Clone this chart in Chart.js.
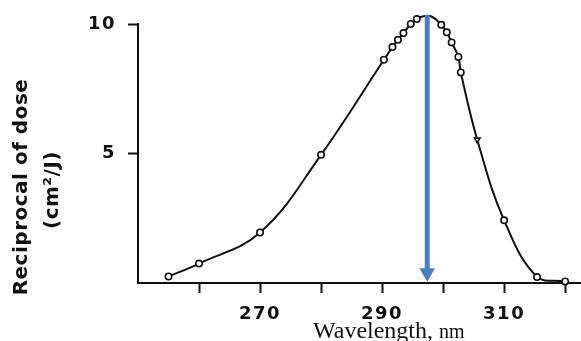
<!DOCTYPE html>
<html><head><meta charset="utf-8">
<style>html,body{margin:0;padding:0;background:#fff;overflow:hidden}
#wrap{width:581px;height:341px;position:relative}</style>
<script src="https://cdn.jsdelivr.net/npm/chart.js@4.4.1/dist/chart.umd.min.js"></script>
</head><body><div id="wrap"><canvas id="c" width="581" height="341"></canvas></div>
<script>
// ---- data ----
const wavelengths = [255, 260, 270, 280, 290.3, 291.7, 292.6, 293.5, 294.7, 295.7, 296.6, 298.1, 299.7, 300.6, 301.4, 302.5, 302.9, 305.6, 310, 315.4, 320];
const reciprocalDose = [0.25, 0.75, 1.95, 4.95, 8.62, 9.11, 9.39, 9.65, 10.0, 10.19, 10.29, 10.29, 9.97, 9.68, 9.29, 8.73, 8.13, 5.53, 2.42, 0.23, 0.06];
const xTickValues = [260, 270, 280, 290, 300, 310, 320];
const xTickLabels = ['', '270', '', '290', '', '310', ''];
const yTickValues = [5, 10];
const yTickLabels = ['5', '10'];
const peakWavelength = [297.4, 297.4];
const arrowValues = [10.35, 0.4];
const yTitle = ['Reciprocal of dose', '(cm\u00B2/J)'];
const xTitle = ['Wavelength,', 'nm'];

const tickFont = {family: '"DejaVu Sans"', weight: 'bold', size: 18};
const ink = '#111';
const blue = '#4a7ebb';

const titlesPlugin = {
  id: 'titles',
  beforeDraw(chart) {
    chart.ctx.letterSpacing = '1.5px';
  },
  afterDraw(chart) {
    const ctx = chart.ctx;
    ctx.save();
    ctx.fillStyle = ink;
    ctx.letterSpacing = '0.5px';
    ctx.font = 'bold 20px "DejaVu Sans"';
    ctx.textAlign = 'center';
    ctx.textBaseline = 'middle';
    [[22, 187], [53, 190]].forEach((p, i) => {
      ctx.save();
      ctx.translate(p[0], p[1]);
      ctx.rotate(-Math.PI / 2);
      ctx.fillText(yTitle[i], 0, 0);
      ctx.restore();
    });
    ctx.letterSpacing = '0px';
    ctx.textAlign = 'left';
    ctx.textBaseline = 'alphabetic';
    ctx.font = '24px "Liberation Serif"';
    ctx.fillText(xTitle[0], 313, 338);
    const w = ctx.measureText(xTitle[0] + ' ').width;
    ctx.font = '20px "Liberation Serif"';
    ctx.fillText(xTitle[1], 313 + w, 338);
    ctx.restore();
  }
};

new Chart(document.getElementById('c'), {
  type: 'line',
  data: {
    datasets: [
      {
        data: peakWavelength.map((x, i) => ({x, y: arrowValues[i]})),
        borderColor: blue,
        borderWidth: 5,
        pointRadius: [0, 9],
        pointStyle: 'triangle',
        rotation: 180,
        pointBackgroundColor: blue,
        pointBorderColor: blue,
        pointBorderWidth: 0,
        clip: false,
        order: -1
      },
      {
        data: wavelengths.map((x, i) => ({x, y: reciprocalDose[i]})),
        borderColor: ink,
        borderWidth: 2,
        tension: 0.4,
        pointRadius: 3.2,
        pointBorderWidth: 1.6,
        pointBackgroundColor: '#fff',
        pointBorderColor: ink,
        pointStyle: wavelengths.map(w => w === 305.6 ? 'triangle' : 'circle'),
        rotation: wavelengths.map(w => w === 305.6 ? 180 : 0),
        clip: false,
        order: 1
      }
    ]
  },
  options: {
    responsive: false,
    devicePixelRatio: 1,
    animation: false,
    events: [],
    layout: {autoPadding: false, padding: {top: 24, right: 0, bottom: 0, left: 0}},
    plugins: {legend: {display: false}, tooltip: {enabled: false}},
    scales: {
      x: {
        type: 'linear', min: 250, max: 322.6,
        border: {display: true, color: ink, width: 2},
        grid: {display: true, drawOnChartArea: false, drawTicks: true, tickLength: 10, tickWidth: 2, tickColor: ink},
        afterBuildTicks: s => { s.ticks = xTickValues.map(v => ({value: v})); },
        afterFit: s => { s.height = 58; s.paddingLeft = 0; s.paddingRight = 0; },
        ticks: {
          font: tickFont, color: ink, padding: 11, autoSkip: false, maxRotation: 0,
          callback: v => xTickLabels[xTickValues.indexOf(v)] ?? ''
        }
      },
      y: {
        type: 'linear', min: 0, max: 10,
        border: {display: true, color: ink, width: 2},
        grid: {display: true, drawOnChartArea: false, drawTicks: true, tickLength: 10, tickWidth: 2, tickColor: ink},
        afterBuildTicks: s => { s.ticks = yTickValues.map(v => ({value: v})); },
        afterFit: s => { s.width = 138; s.paddingTop = 0; s.paddingBottom = 0; },
        ticks: {
          font: tickFont, color: ink, padding: 12,
          callback: v => yTickLabels[yTickValues.indexOf(v)] ?? ''
        }
      }
    }
  },
  plugins: [titlesPlugin]
});
</script>
</body></html>
